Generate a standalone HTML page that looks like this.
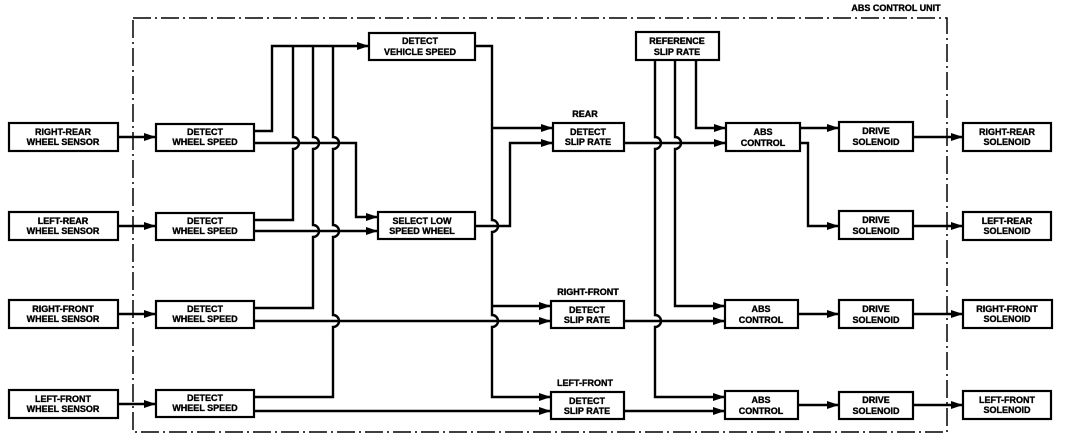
<!DOCTYPE html>
<html><head><style>
html,body{margin:0;padding:0;background:#fff;}
svg{display:block;}
text{font-family:"Liberation Sans",sans-serif;font-weight:bold;font-size:9px;fill:#000;stroke:#000;stroke-width:0.35;text-anchor:middle;}
</style></head><body>
<svg width="1072" height="446" viewBox="0 0 1072 446" xmlns="http://www.w3.org/2000/svg">
<defs>
<marker id="a" markerWidth="12" markerHeight="9" refX="12" refY="4.5" orient="auto" markerUnits="userSpaceOnUse">
<path d="M0,0.5 L12,4.5 L0,8.5 Z" fill="#000"/>
</marker>
</defs>
<rect x="133" y="18" width="814" height="414" fill="none" stroke="#000" stroke-width="1.5" stroke-dasharray="18,4,2,4"/>
<text x="896" y="11">ABS CONTROL UNIT</text>

<g fill="#fff" stroke="#000" stroke-width="2.2">
<rect x="9" y="123" width="109" height="28"/>
<rect x="9" y="212" width="109" height="28"/>
<rect x="9" y="300" width="109" height="28"/>
<rect x="9" y="390" width="109" height="28"/>
<rect x="156" y="124" width="98" height="27"/>
<rect x="156" y="213" width="98" height="27"/>
<rect x="156" y="301" width="98" height="27"/>
<rect x="156" y="390" width="98" height="27"/>
<rect x="369" y="33" width="106" height="27"/>
<rect x="378" y="212" width="97" height="27"/>
<rect x="553" y="123" width="71" height="28"/>
<rect x="551" y="301" width="73" height="27"/>
<rect x="551" y="392" width="73" height="27"/>
<rect x="636" y="32" width="83" height="28"/>
<rect x="726" y="123" width="74" height="28"/>
<rect x="725" y="300" width="73" height="28"/>
<rect x="725" y="391" width="73" height="28"/>
<rect x="839" y="122" width="74" height="29"/>
<rect x="839" y="211" width="74" height="28"/>
<rect x="839" y="300" width="74" height="28"/>
<rect x="839" y="392" width="74" height="27"/>
<rect x="963" y="123" width="88" height="28"/>
<rect x="963" y="212" width="88" height="28"/>
<rect x="963" y="300" width="89" height="28"/>
<rect x="963" y="391" width="88" height="28"/>
</g>

<g fill="none" stroke="#000" stroke-width="2.4">
<path d="M118,137 H156" marker-end="url(#a)"/>
<path d="M118,226 H156" marker-end="url(#a)"/>
<path d="M118,314 H156" marker-end="url(#a)"/>
<path d="M118,404 H156" marker-end="url(#a)"/>
<path d="M254,131 H272 V46 H369" marker-end="url(#a)"/>
<path d="M254,220 H293 V149 A6,6 0 0 0 293,137 V46"/>
<path d="M254,308 H313 V237 A6,6 0 0 0 313,225 V149 A6,6 0 0 0 313,137 V46"/>
<path d="M254,397 H333 V327 A6,6 0 0 0 333,315 V237 A6,6 0 0 0 333,225 V149 A6,6 0 0 0 333,137 V46"/>
<path d="M254,143 H356 V217 H378" marker-end="url(#a)"/>
<path d="M254,231 H378" marker-end="url(#a)"/>
<path d="M254,321 H551" marker-end="url(#a)"/>
<path d="M254,411 H551" marker-end="url(#a)"/>
<path d="M475,46 H492 V220 A6,6 0 0 1 492,232 V315 A6,6 0 0 1 492,327 V397 H551" marker-end="url(#a)"/>
<path d="M492,128 H553" marker-end="url(#a)"/>
<path d="M492,306 H551" marker-end="url(#a)"/>
<path d="M475,226 H510 V143 H553" marker-end="url(#a)"/>
<path d="M624,143 H726" marker-end="url(#a)"/>
<path d="M655,60 V137 A6,6 0 0 1 655,149 V315 A6,6 0 0 1 655,327 V397 H725" marker-end="url(#a)"/>
<path d="M675,60 V137 A6,6 0 0 1 675,149 V306 H725" marker-end="url(#a)"/>
<path d="M696,60 V128 H726" marker-end="url(#a)"/>
<path d="M624,321 H725" marker-end="url(#a)"/>
<path d="M624,411 H725" marker-end="url(#a)"/>
<path d="M800,128 H839" marker-end="url(#a)"/>
<path d="M800,143 H808 V226 H839" marker-end="url(#a)"/>
<path d="M798,314 H839" marker-end="url(#a)"/>
<path d="M798,405 H839" marker-end="url(#a)"/>
<path d="M913,137 H963" marker-end="url(#a)"/>
<path d="M913,226 H963" marker-end="url(#a)"/>
<path d="M913,314 H963" marker-end="url(#a)"/>
<path d="M913,405 H963" marker-end="url(#a)"/>
</g>

<g>
<text x="63" y="135">RIGHT-REAR</text><text x="63" y="145">WHEEL SENSOR</text>
<text x="63" y="224">LEFT-REAR</text><text x="63" y="234">WHEEL SENSOR</text>
<text x="63" y="312">RIGHT-FRONT</text><text x="63" y="322">WHEEL SENSOR</text>
<text x="63" y="402">LEFT-FRONT</text><text x="63" y="412">WHEEL SENSOR</text>
<text x="205" y="135">DETECT</text><text x="205" y="145">WHEEL SPEED</text>
<text x="205" y="224">DETECT</text><text x="205" y="234">WHEEL SPEED</text>
<text x="205" y="312">DETECT</text><text x="205" y="322">WHEEL SPEED</text>
<text x="205" y="401">DETECT</text><text x="205" y="411">WHEEL SPEED</text>
<text x="420" y="44">DETECT</text><text x="420" y="55">VEHICLE SPEED</text>
<text x="422" y="224">SELECT LOW</text><text x="422" y="234">SPEED WHEEL</text>
<text x="585" y="117">REAR</text>
<text x="588" y="135">DETECT</text><text x="588" y="145">SLIP RATE</text>
<text x="588" y="295">RIGHT-FRONT</text>
<text x="587" y="313">DETECT</text><text x="587" y="323">SLIP RATE</text>
<text x="585" y="386">LEFT-FRONT</text>
<text x="587" y="404">DETECT</text><text x="587" y="414">SLIP RATE</text>
<text x="677" y="44">REFERENCE</text><text x="677" y="55">SLIP RATE</text>
<text x="763" y="135">ABS</text><text x="763" y="146">CONTROL</text>
<text x="761" y="312">ABS</text><text x="761" y="323">CONTROL</text>
<text x="761" y="403">ABS</text><text x="761" y="414">CONTROL</text>
<text x="876" y="134">DRIVE</text><text x="876" y="145">SOLENOID</text>
<text x="876" y="223">DRIVE</text><text x="876" y="234">SOLENOID</text>
<text x="876" y="312">DRIVE</text><text x="876" y="323">SOLENOID</text>
<text x="876" y="403">DRIVE</text><text x="876" y="414">SOLENOID</text>
<text x="1007" y="135">RIGHT-REAR</text><text x="1007" y="145">SOLENOID</text>
<text x="1007" y="224">LEFT-REAR</text><text x="1007" y="234">SOLENOID</text>
<text x="1007" y="312">RIGHT-FRONT</text><text x="1007" y="322">SOLENOID</text>
<text x="1007" y="403">LEFT-FRONT</text><text x="1007" y="413">SOLENOID</text>
</g>
</svg>
</body></html>
